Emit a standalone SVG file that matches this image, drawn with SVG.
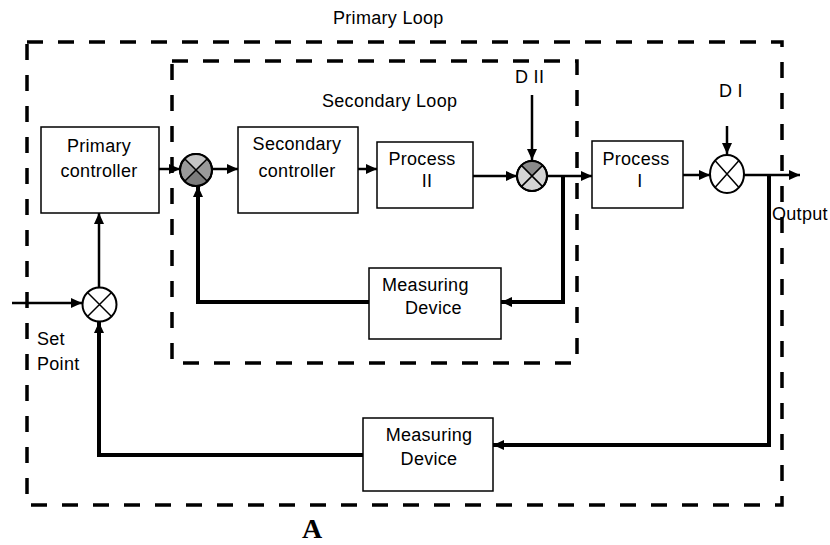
<svg xmlns="http://www.w3.org/2000/svg" width="830" height="545" viewBox="0 0 830 545">
<defs>
<style>
.t{font-family:"Liberation Sans",Arial,sans-serif;font-size:18px;fill:#000;letter-spacing:0.3px}
.box{fill:#fff;stroke:#000;stroke-width:1.5}
.dash{fill:none;stroke:#000;stroke-width:3.5;stroke-dasharray:16 15}
.fw{fill:none;stroke:#000;stroke-width:2.5}
.fb{fill:none;stroke:#000;stroke-width:4}
.x{stroke:#000;stroke-width:1.5}
.j{stroke:#000;stroke-width:2}
</style>
<marker id="ah" markerUnits="userSpaceOnUse" markerWidth="11" markerHeight="10" refX="11" refY="5" orient="auto">
<path d="M0,0 L11,5 L0,10 z" fill="#000"/>
</marker>
</defs>
<rect width="830" height="545" fill="#fff"/>

<g id="loops">
<rect class="dash" x="27" y="42" width="755" height="463"/>
<rect class="dash" x="172" y="61" width="405" height="302"/>
<text class="t" x="333" y="24">Primary Loop</text>
<text class="t" x="322" y="107">Secondary Loop</text>
</g>

<g id="connectors">
<path class="fw" d="M159,169 H180" marker-end="url(#ah)"/>
<path class="fw" d="M212,169 H238" marker-end="url(#ah)"/>
<path class="fw" d="M358,169 H377" marker-end="url(#ah)"/>
<path class="fw" d="M473,176 H517" marker-end="url(#ah)"/>
<path class="fw" d="M547,176 H592" marker-end="url(#ah)"/>
<path class="fw" d="M683,175 H710" marker-end="url(#ah)"/>
<path class="fw" d="M744,175 H800" marker-end="url(#ah)"/>
<path class="fw" d="M532,95 V160" marker-end="url(#ah)"/>
<path class="fw" d="M727,126 V154" stroke-width="1.5" marker-end="url(#ah)"/>
<path class="fb" d="M563,176 V302 H501" marker-end="url(#ah)"/>
<path class="fb" d="M369,302 H198 V186" marker-end="url(#ah)"/>
<path class="fb" d="M769,175 V445 H493" marker-end="url(#ah)"/>
<path class="fb" d="M363,455 H99 V322" marker-end="url(#ah)"/>
<path class="fw" d="M99,287 V213" marker-end="url(#ah)"/>
<path class="fw" d="M12,303 H82" marker-end="url(#ah)"/>
</g>

<g id="primary-controller">
<rect class="box" x="41" y="127" width="118" height="86"/>
<text class="t" x="99" y="152" text-anchor="middle">Primary</text>
<text class="t" x="99" y="177" text-anchor="middle">controller</text>
</g>

<g id="secondary-controller">
<rect class="box" x="238" y="127" width="120" height="86"/>
<text class="t" x="297" y="150" text-anchor="middle">Secondary</text>
<text class="t" x="297" y="177" text-anchor="middle">controller</text>
</g>

<g id="process-2">
<rect class="box" x="377" y="142" width="96" height="66"/>
<text class="t" x="422" y="165" text-anchor="middle">Process</text>
<text class="t" x="427" y="187" text-anchor="middle">II</text>
</g>

<g id="process-1">
<rect class="box" x="592" y="141" width="91" height="67"/>
<text class="t" x="636" y="165" text-anchor="middle">Process</text>
<text class="t" x="640" y="187" text-anchor="middle">I</text>
</g>

<g id="measuring-secondary">
<rect class="box" x="369" y="268" width="132" height="71"/>
<text class="t" x="382" y="291">Measuring</text>
<text class="t" x="405" y="314">Device</text>
</g>

<g id="measuring-primary">
<rect class="box" x="363" y="418" width="130" height="73"/>
<text class="t" x="429" y="441" text-anchor="middle">Measuring</text>
<text class="t" x="429" y="465" text-anchor="middle">Device</text>
</g>

<g id="sum-secondary">
<circle cx="196" cy="170" r="16" fill="#9a9a9a" class="j"/>
<path d="M196,170 L184.7,158.7 A16,16 0 0 1 207.3,158.7 Z" fill="#c4c4c4"/>
<path d="M196,170 L207.3,181.3 A16,16 0 0 1 184.7,181.3 Z" fill="#7c7c7c"/>
<circle cx="196" cy="170" r="16" fill="none" class="j"/>
<path class="x" d="M184.7,158.7 L207.3,181.3 M207.3,158.7 L184.7,181.3"/>
</g>

<g id="sum-d2">
<circle cx="532" cy="176" r="15" fill="#d4d4d4" class="j"/>
<path d="M532,176 L521.4,165.4 A15,15 0 0 1 542.6,165.4 Z" fill="#8a8a8a"/>
<circle cx="532" cy="176" r="15" fill="none" class="j"/>
<path class="x" d="M521.4,165.4 L542.6,186.6 M542.6,165.4 L521.4,186.6"/>
<text class="t" x="515" y="83" font-size="16">D II</text>
</g>

<g id="sum-d1">
<ellipse cx="727" cy="174" rx="17" ry="19" fill="#fff" class="j"/>
<path class="x" d="M715,160.6 L739,187.4 M739,160.6 L715,187.4"/>
<text class="t" x="719" y="97" font-size="16">D I</text>
</g>

<g id="sum-setpoint">
<circle cx="99.5" cy="304.5" r="17" fill="#fff" class="j"/>
<path class="x" d="M87.5,292.5 L111.5,316.5 M111.5,292.5 L87.5,316.5"/>
</g>

<g id="labels">
<text class="t" x="772" y="220">Output</text>
<text class="t" x="37" y="345">Set</text>
<text class="t" x="37" y="370">Point</text>
<text x="302" y="538" font-family="'Liberation Serif','Times New Roman',serif" font-size="28" font-weight="bold">A</text>
</g>
</svg>
